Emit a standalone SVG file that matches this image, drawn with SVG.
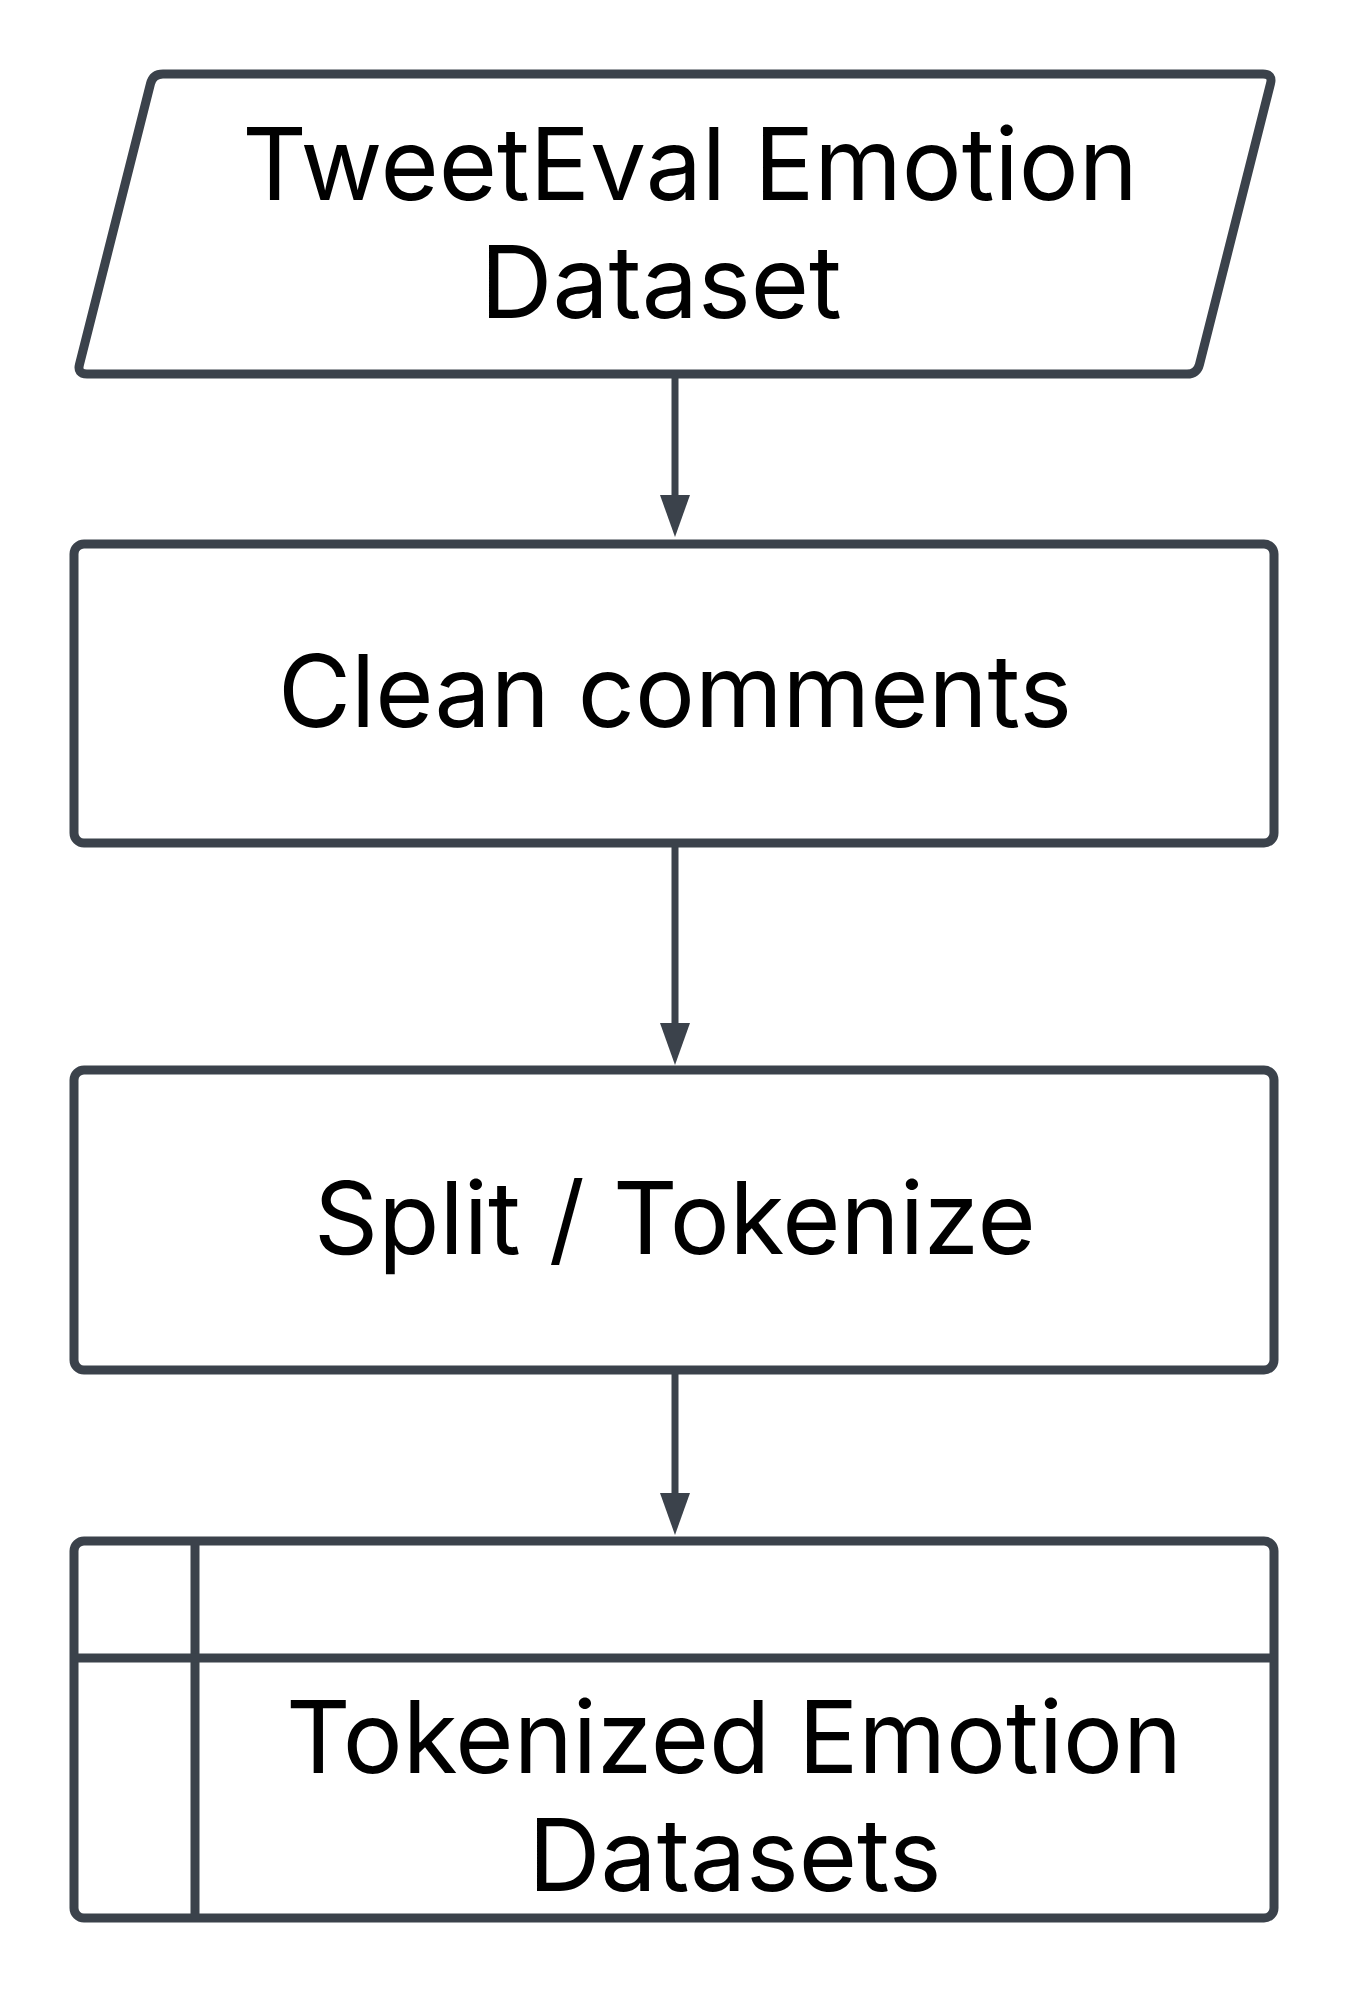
<svg xmlns="http://www.w3.org/2000/svg" width="1350" height="1997" viewBox="0 0 1350 1997">
<defs>
<style>
.shape{fill:#ffffff;stroke:#3b424b;stroke-width:9;stroke-linejoin:round}
.div{stroke:#3b424b;stroke-width:9;fill:none}
.edge{stroke:#3b424b;stroke-width:7;fill:none}
.head{fill:#3b424b}
.lbl{font-family:Inter,"Liberation Sans",sans-serif;font-size:100px;fill:#000000;text-anchor:middle}
</style>
</defs>
<rect width="1350" height="1997" fill="#ffffff"/>
<g id="connectors">
<line class="edge" x1="675" y1="378" x2="675" y2="500"/>
<polygon class="head" points="675,537 660,495 690,495"/>
<line class="edge" x1="675" y1="847" x2="675" y2="1028"/>
<polygon class="head" points="675,1065 660,1023 690,1023"/>
<line class="edge" x1="675" y1="1374" x2="675" y2="1498"/>
<polygon class="head" points="675,1535 660,1493 690,1493"/>
</g>
<g id="node-dataset">
<path class="shape" d="M163,74 L1263,74 Q1273,74 1270.5,83.7 L1199.5,364.3 Q1197,374 1187,374 L87,374 Q77,374 79.5,364.3 L150.5,83.7 Q153,74 163,74 Z"/>
<text class="lbl" x="690" y="200">TweetEval Emotion</text>
<text class="lbl" x="661" y="318">Dataset</text>
</g>
<g id="node-clean">
<rect class="shape" x="74" y="544" width="1200" height="299" rx="10"/>
<text class="lbl" x="675" y="727">Clean comments</text>
</g>
<g id="node-split">
<rect class="shape" x="74" y="1070" width="1200" height="300" rx="10"/>
<text class="lbl" x="675" y="1254">Split / Tokenize</text>
</g>
<g id="node-tokenized">
<rect class="shape" x="74" y="1541" width="1200" height="377" rx="10"/>
<line class="div" x1="195" y1="1541" x2="195" y2="1918"/>
<line class="div" x1="74" y1="1658" x2="1274" y2="1658"/>
<text class="lbl" x="734" y="1773">Tokenized Emotion</text>
<text class="lbl" x="735" y="1891">Datasets</text>
</g>
</svg>
